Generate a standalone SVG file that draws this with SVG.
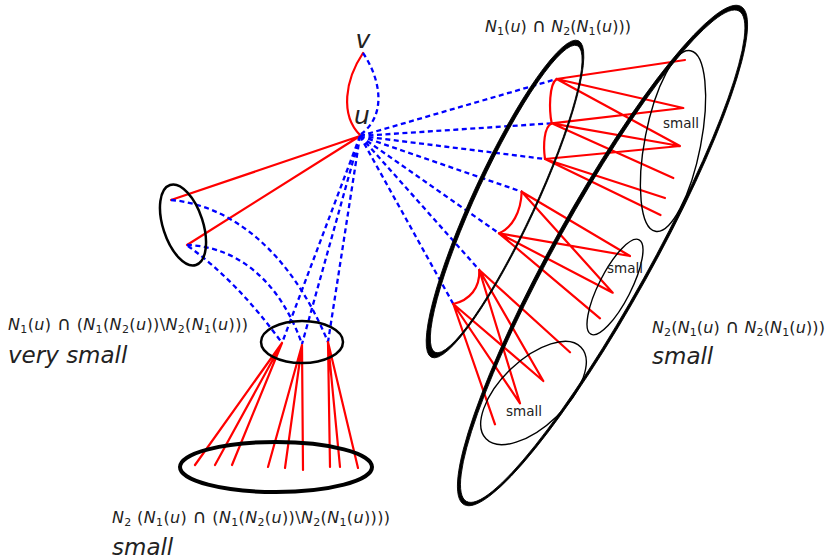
<svg xmlns="http://www.w3.org/2000/svg" width="828" height="559" viewBox="0 0 828 559">
<style>
.r{stroke:#f00;stroke-width:2.2;fill:none;stroke-linecap:round}
.b{stroke:#00f;stroke-width:2.3;fill:none;stroke-dasharray:5 3.5}
.e{fill:none;stroke:#000}
.c{fill:#000;fill-rule:evenodd;stroke:#000;stroke-width:0.8}
.t{font-family:"DejaVu Sans","Liberation Sans",sans-serif;fill:#222}
.m{font-size:16px}
.i{font-style:italic}
.sb{font-size:11px}
.cap{font-size:19px}
.big{font-size:23px;font-style:italic}
.sm{font-size:13.5px}
.lbl{font-size:25px;font-style:italic}
</style>
<rect width="828" height="559" fill="#fff"/>
<g id="connectors">
  <path class="r" d="M363,53 C345,80 340,115 360,135"/>
  <path class="b" d="M363,53 C380,78 388,115 360,135"/>
  <path class="r" d="M360,136 L171,200 M360,136 L187,245"/>
  <path class="b" d="M360,136 L282,343 M360,136 L302,344 M360,136 L328,342"/>
  <path class="b" d="M171,200 C230,205 290,250 328,342"/>
  <path class="b" d="M187,245 C225,246 275,268 302,344"/>
  <path class="b" d="M188,246 Q238,282 282,343"/>
  <path class="r" d="M282,343 L195,465 M282,343 L215,465 M282,343 L232,465 M302,345 L268,467 M302,345 L285,468 M302,345 L303,470 M328,342 L330,467 M328,342 L340,467 M328,342 L358,468"/>
  <path class="b" d="M360,136 L556.7,79 M360,136 L551.7,123.3 M360,136 L545,159 M360,136 L521.7,191.7 M360,136 L499,233.3 M360,136 L479.3,270 M360,136 L453.3,304"/>
  <path class="r" d="M556.7,79 C549,84 549,110 551.7,123.3"/>
  <path class="r" d="M551.7,123.3 C544,127 543,145 545,159"/>
  <path class="r" d="M521.7,191.7 C521,212 512,228 499,233.3"/>
  <path class="r" d="M479.3,270 C480,288 470,300 453.3,304"/>
  <path class="r" d="M556.7,79 L685,60 M556.7,79 L683.3,108 M556.7,79 L680,146 M551.7,123.3 L683.3,108 M551.7,123.3 L680,146 M551.7,123.3 L673.3,178 M545,159 L680,146 M545,159 L665,198 M545,159 L660.5,215"/>
  <path class="r" d="M521.7,191.7 L630,256 M521.7,191.7 L612.7,292.7 M499,233.3 L630,256 M499,233.3 L612.7,292.7 M499,233.3 L600,318.3"/>
  <path class="r" d="M479.3,270 L570,352.3 M479.3,270 L543.3,381 M479.3,270 L520,403.3 M453.3,304 L543.3,381 M453.3,304 L520,403.3 M453.3,304 L495,424.3"/>
</g>
<g id="node-v"><text class="t lbl" x="363" y="48" text-anchor="middle">v</text></g>
<g id="node-u"><text class="t lbl" x="362" y="124" text-anchor="middle">u</text></g>
<g id="node-left-set"><ellipse class="e" stroke-width="2.5" cx="0" cy="0" rx="20" ry="42" transform="translate(183,225) rotate(-18)"/></g>
<g id="node-intersection">
  <ellipse class="e" stroke-width="2.5" cx="302" cy="342" rx="41" ry="21"/>
  <text class="t m" x="8" y="330" textLength="240"><tspan class="i">N</tspan><tspan class="sb" dy="3">1</tspan><tspan dy="-3">(</tspan><tspan class="i">u</tspan><tspan>) </tspan><tspan class="cap">∩</tspan><tspan> (</tspan><tspan class="i">N</tspan><tspan class="sb" dy="3">1</tspan><tspan dy="-3">(</tspan><tspan class="i">N</tspan><tspan class="sb" dy="3">2</tspan><tspan dy="-3">(</tspan><tspan class="i">u</tspan><tspan>))\</tspan><tspan class="i">N</tspan><tspan class="sb" dy="3">2</tspan><tspan dy="-3">(</tspan><tspan class="i">N</tspan><tspan class="sb" dy="3">1</tspan><tspan dy="-3">(</tspan><tspan class="i">u</tspan><tspan>)))</tspan></text>
  <text class="t big" x="8" y="363">very small</text>
</g>
<g id="node-bottom-set">
  <ellipse class="e" stroke-width="4" cx="276" cy="467" rx="96" ry="25"/>
  <text class="t m" x="112" y="523" textLength="278"><tspan class="i">N</tspan><tspan class="sb" dy="3">2</tspan><tspan dy="-3"> (</tspan><tspan class="i">N</tspan><tspan class="sb" dy="3">1</tspan><tspan dy="-3">(</tspan><tspan class="i">u</tspan><tspan>) </tspan><tspan class="cap">∩</tspan><tspan> (</tspan><tspan class="i">N</tspan><tspan class="sb" dy="3">1</tspan><tspan dy="-3">(</tspan><tspan class="i">N</tspan><tspan class="sb" dy="3">2</tspan><tspan dy="-3">(</tspan><tspan class="i">u</tspan><tspan>))\</tspan><tspan class="i">N</tspan><tspan class="sb" dy="3">2</tspan><tspan dy="-3">(</tspan><tspan class="i">N</tspan><tspan class="sb" dy="3">1</tspan><tspan dy="-3">(</tspan><tspan class="i">u</tspan><tspan>))))</tspan></text>
  <text class="t big" x="112" y="555">small</text>
</g>
<g id="node-N1-N2N1">
  <path class="c" transform="translate(505,199) rotate(24.9)" d="M-31.5,0 A31.5,174.5 0 1 0 31.5,0 A31.5,174.5 0 1 0 -31.5,0 Z M-28,-0.5 A29.1,169 0 1 0 30.2,-0.5 A29.1,169 0 1 0 -28,-0.5 Z"/>
  <text class="t m" x="485" y="32" textLength="146"><tspan class="i">N</tspan><tspan class="sb" dy="3">1</tspan><tspan dy="-3">(</tspan><tspan class="i">u</tspan><tspan>) </tspan><tspan class="cap">∩</tspan><tspan> </tspan><tspan class="i">N</tspan><tspan class="sb" dy="3">2</tspan><tspan dy="-3">(</tspan><tspan class="i">N</tspan><tspan class="sb" dy="3">1</tspan><tspan dy="-3">(</tspan><tspan class="i">u</tspan><tspan>)))</tspan></text>
</g>
<g id="node-N2-outer">
  <path class="c" transform="translate(602.5,255.5) rotate(29.07)" d="M-49.5,0 A49.5,285 0 1 0 49.5,0 A49.5,285 0 1 0 -49.5,0 Z M-46,0.5 A46.5,280.5 0 1 0 47,0.5 A46.5,280.5 0 1 0 -46,0.5 Z"/>
  <text class="t m" x="652" y="333" textLength="173"><tspan class="i">N</tspan><tspan class="sb" dy="3">2</tspan><tspan dy="-3">(</tspan><tspan class="i">N</tspan><tspan class="sb" dy="3">1</tspan><tspan dy="-3">(</tspan><tspan class="i">u</tspan><tspan>) </tspan><tspan class="cap">∩</tspan><tspan> </tspan><tspan class="i">N</tspan><tspan class="sb" dy="3">2</tspan><tspan dy="-3">(</tspan><tspan class="i">N</tspan><tspan class="sb" dy="3">1</tspan><tspan dy="-3">(</tspan><tspan class="i">u</tspan><tspan>)))</tspan></text>
  <text class="t big" x="652" y="364">small</text>
</g>
<g id="node-small-top">
  <ellipse class="e" stroke-width="1.4" cx="0" cy="0" rx="28" ry="92" transform="translate(673,141) rotate(11)"/>
  <text class="t sm" x="663" y="128">small</text>
</g>
<g id="node-small-mid">
  <ellipse class="e" stroke-width="1.4" cx="0" cy="0" rx="16" ry="53" transform="translate(615,287) rotate(27)"/>
  <text class="t sm" x="607" y="273">small</text>
</g>
<g id="node-small-bottom">
  <ellipse class="e" stroke-width="1.4" cx="0" cy="0" rx="66" ry="33" transform="translate(533.5,393) rotate(-44)"/>
  <text class="t sm" x="506" y="416">small</text>
</g>
</svg>
